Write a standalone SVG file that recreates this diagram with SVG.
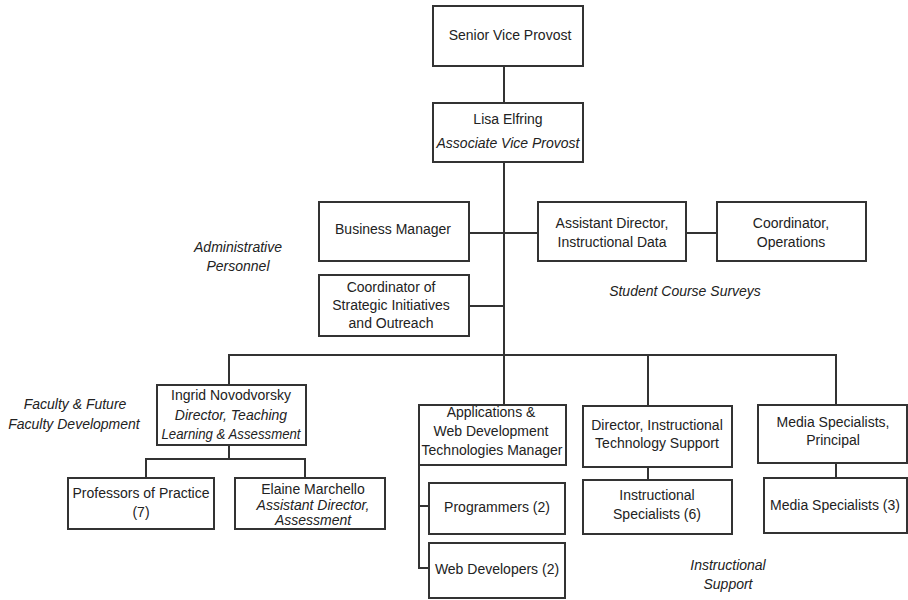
<svg xmlns="http://www.w3.org/2000/svg" width="908" height="600" viewBox="0 0 908 600">
  <style>
    .box { fill: #ffffff; stroke: #333333; stroke-width: 2; }
    .wire { fill: none; stroke: #333333; stroke-width: 2; }
    text { font-family: "Liberation Sans", Arial, sans-serif; font-size: 14px; fill: #222222; text-anchor: middle; }
    .it { font-style: italic; }
  </style>
  <rect width="908" height="600" fill="#ffffff"/>

  <!-- connectors -->
  <g id="connectors">
    <path class="wire" d="M504 66 V103"/>
    <path class="wire" d="M504 162 V355"/>
    <path class="wire" d="M469 233 H538"/>
    <path class="wire" d="M686 233 H717"/>
    <path class="wire" d="M469 306 H504"/>
    <path class="wire" d="M229 385 V355 H836 V405"/>
    <path class="wire" d="M504 355 V405"/>
    <path class="wire" d="M648 355 V406"/>
    <path class="wire" d="M229 445 V459"/>
    <path class="wire" d="M146 478 V459 H305 V478"/>
    <path class="wire" d="M419 465 V568 H429"/>
    <path class="wire" d="M419 506 H429"/>
    <path class="wire" d="M648 467 V480"/>
    <path class="wire" d="M836 463 V478"/>
  </g>

  <!-- nodes -->
  <g id="senior-vice-provost">
    <rect class="box" x="433" y="6" width="150" height="60"/>
    <text x="510" y="40">Senior Vice Provost</text>
  </g>
  <g id="associate-vice-provost">
    <rect class="box" x="433" y="103" width="150" height="59"/>
    <text x="508" y="124">Lisa Elfring</text>
    <text class="it" x="508" y="148">Associate Vice Provost</text>
  </g>
  <g id="business-manager">
    <rect class="box" x="319" y="202" width="150" height="59"/>
    <text x="393" y="234">Business Manager</text>
  </g>
  <g id="coordinator-strategic">
    <rect class="box" x="319" y="275" width="150" height="61"/>
    <text x="391" y="292">Coordinator of</text>
    <text x="391" y="310">Strategic Initiatives</text>
    <text x="391" y="328">and Outreach</text>
  </g>
  <g id="assistant-director-data">
    <rect class="box" x="538" y="202" width="148" height="59"/>
    <text x="612" y="228">Assistant Director,</text>
    <text x="612" y="247">Instructional Data</text>
  </g>
  <g id="coordinator-operations">
    <rect class="box" x="717" y="202" width="149" height="59"/>
    <text x="791" y="228">Coordinator,</text>
    <text x="791" y="247">Operations</text>
  </g>
  <g id="director-tla">
    <rect class="box" x="157" y="385" width="149" height="60"/>
    <text x="231" y="400">Ingrid Novodvorsky</text>
    <text class="it" x="231" y="420">Director, Teaching</text>
    <text class="it" x="231" y="439" textLength="139" lengthAdjust="spacingAndGlyphs">Learning &amp; Assessment</text>
  </g>
  <g id="professors-of-practice">
    <rect class="box" x="68" y="478" width="146" height="51"/>
    <text x="141" y="498">Professors of Practice</text>
    <text x="141" y="517">(7)</text>
  </g>
  <g id="assistant-director-assessment">
    <rect class="box" x="235" y="478" width="150" height="51"/>
    <text x="313" y="494">Elaine Marchello</text>
    <text class="it" x="313" y="510">Assistant Director,</text>
    <text class="it" x="313" y="525">Assessment</text>
  </g>
  <g id="web-dev-manager">
    <rect class="box" x="419" y="405" width="147" height="60"/>
    <text x="491" y="417">Applications &amp;</text>
    <text x="491" y="436">Web Development</text>
    <text x="492" y="455">Technologies Manager</text>
  </g>
  <g id="programmers">
    <rect class="box" x="429" y="483" width="136" height="51"/>
    <text x="497" y="512">Programmers (2)</text>
  </g>
  <g id="web-developers">
    <rect class="box" x="429" y="543" width="136" height="55"/>
    <text x="497" y="574">Web Developers (2)</text>
  </g>
  <g id="director-its">
    <rect class="box" x="583" y="406" width="149" height="61"/>
    <text x="657" y="430">Director, Instructional</text>
    <text x="657" y="448">Technology Support</text>
  </g>
  <g id="instructional-specialists">
    <rect class="box" x="583" y="480" width="149" height="54"/>
    <text x="657" y="500">Instructional</text>
    <text x="657" y="519">Specialists (6)</text>
  </g>
  <g id="media-principal">
    <rect class="box" x="758" y="405" width="149" height="58"/>
    <text x="833" y="427">Media Specialists,</text>
    <text x="833" y="445">Principal</text>
  </g>
  <g id="media-specialists">
    <rect class="box" x="764" y="478" width="143" height="55"/>
    <text x="835" y="510">Media Specialists (3)</text>
  </g>

  <!-- area labels -->
  <g id="labels">
    <text class="it" x="238" y="252">Administrative</text>
    <text class="it" x="238" y="271">Personnel</text>
    <text class="it" x="685" y="296">Student Course Surveys</text>
    <text class="it" x="75" y="409">Faculty &amp; Future</text>
    <text class="it" x="74" y="429">Faculty Development</text>
    <text class="it" x="728" y="570">Instructional</text>
    <text class="it" x="728" y="589">Support</text>
  </g>
</svg>
